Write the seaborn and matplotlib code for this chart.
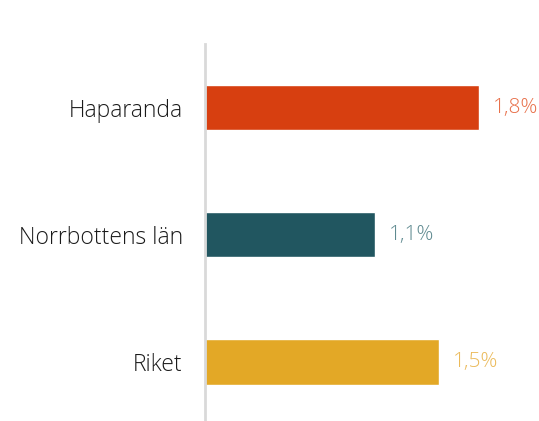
import matplotlib
matplotlib.use("Agg")
import matplotlib.pyplot as plt
import seaborn as sns
import pandas as pd

categories = ["Haparanda", "Norrbottens län", "Riket"]
values = [1.8, 1.12, 1.54]
bar_colors = ["#D73F10", "#215660", "#E3A826"]
label_colors = ["#E8704A", "#5F8A90", "#EBBA5A"]

sns.set_theme(style="white")
plt.rcParams['font.family'] = ['Open Sans', 'DejaVu Sans']

df = pd.DataFrame({"cat": categories, "val": values})

fig = plt.figure(figsize=(5.39, 4.21), dpi=100)
ax = fig.add_axes([205/539, 0, 1 - 205/539, 1 - 44/421])
sns.barplot(data=df, y="cat", x="val", hue="cat", palette=bar_colors,
            orient="h", width=0.358, legend=False, ax=ax, saturation=1)
ax.set_xlim(0, 334/152.2)
ax.set_ylim(2.465, -0.5)
for s in ["top", "right", "bottom"]:
    ax.spines[s].set_visible(False)
ax.spines["left"].set_color("#d9d9d9")
ax.spines["left"].set_linewidth(2)
ax.set_xticks([])
ax.set_xlabel("")
ax.set_ylabel("")
ax.tick_params(axis="y", length=0, pad=16)
for t in ax.get_yticklabels():
    t.set_fontsize(16.5)
    t.set_color("#1a1a1a")
    t.set_fontweight(300)
for i, (v, c) in enumerate(zip(values, label_colors)):
    ax.annotate(f"{v:.1f}%".replace(".", ","), xy=(v, i), xytext=(10, 0),
                textcoords="offset points", va="center", ha="left",
                fontsize=15, color=c, fontweight=300)
fig.savefig("out.png", dpi=100)
